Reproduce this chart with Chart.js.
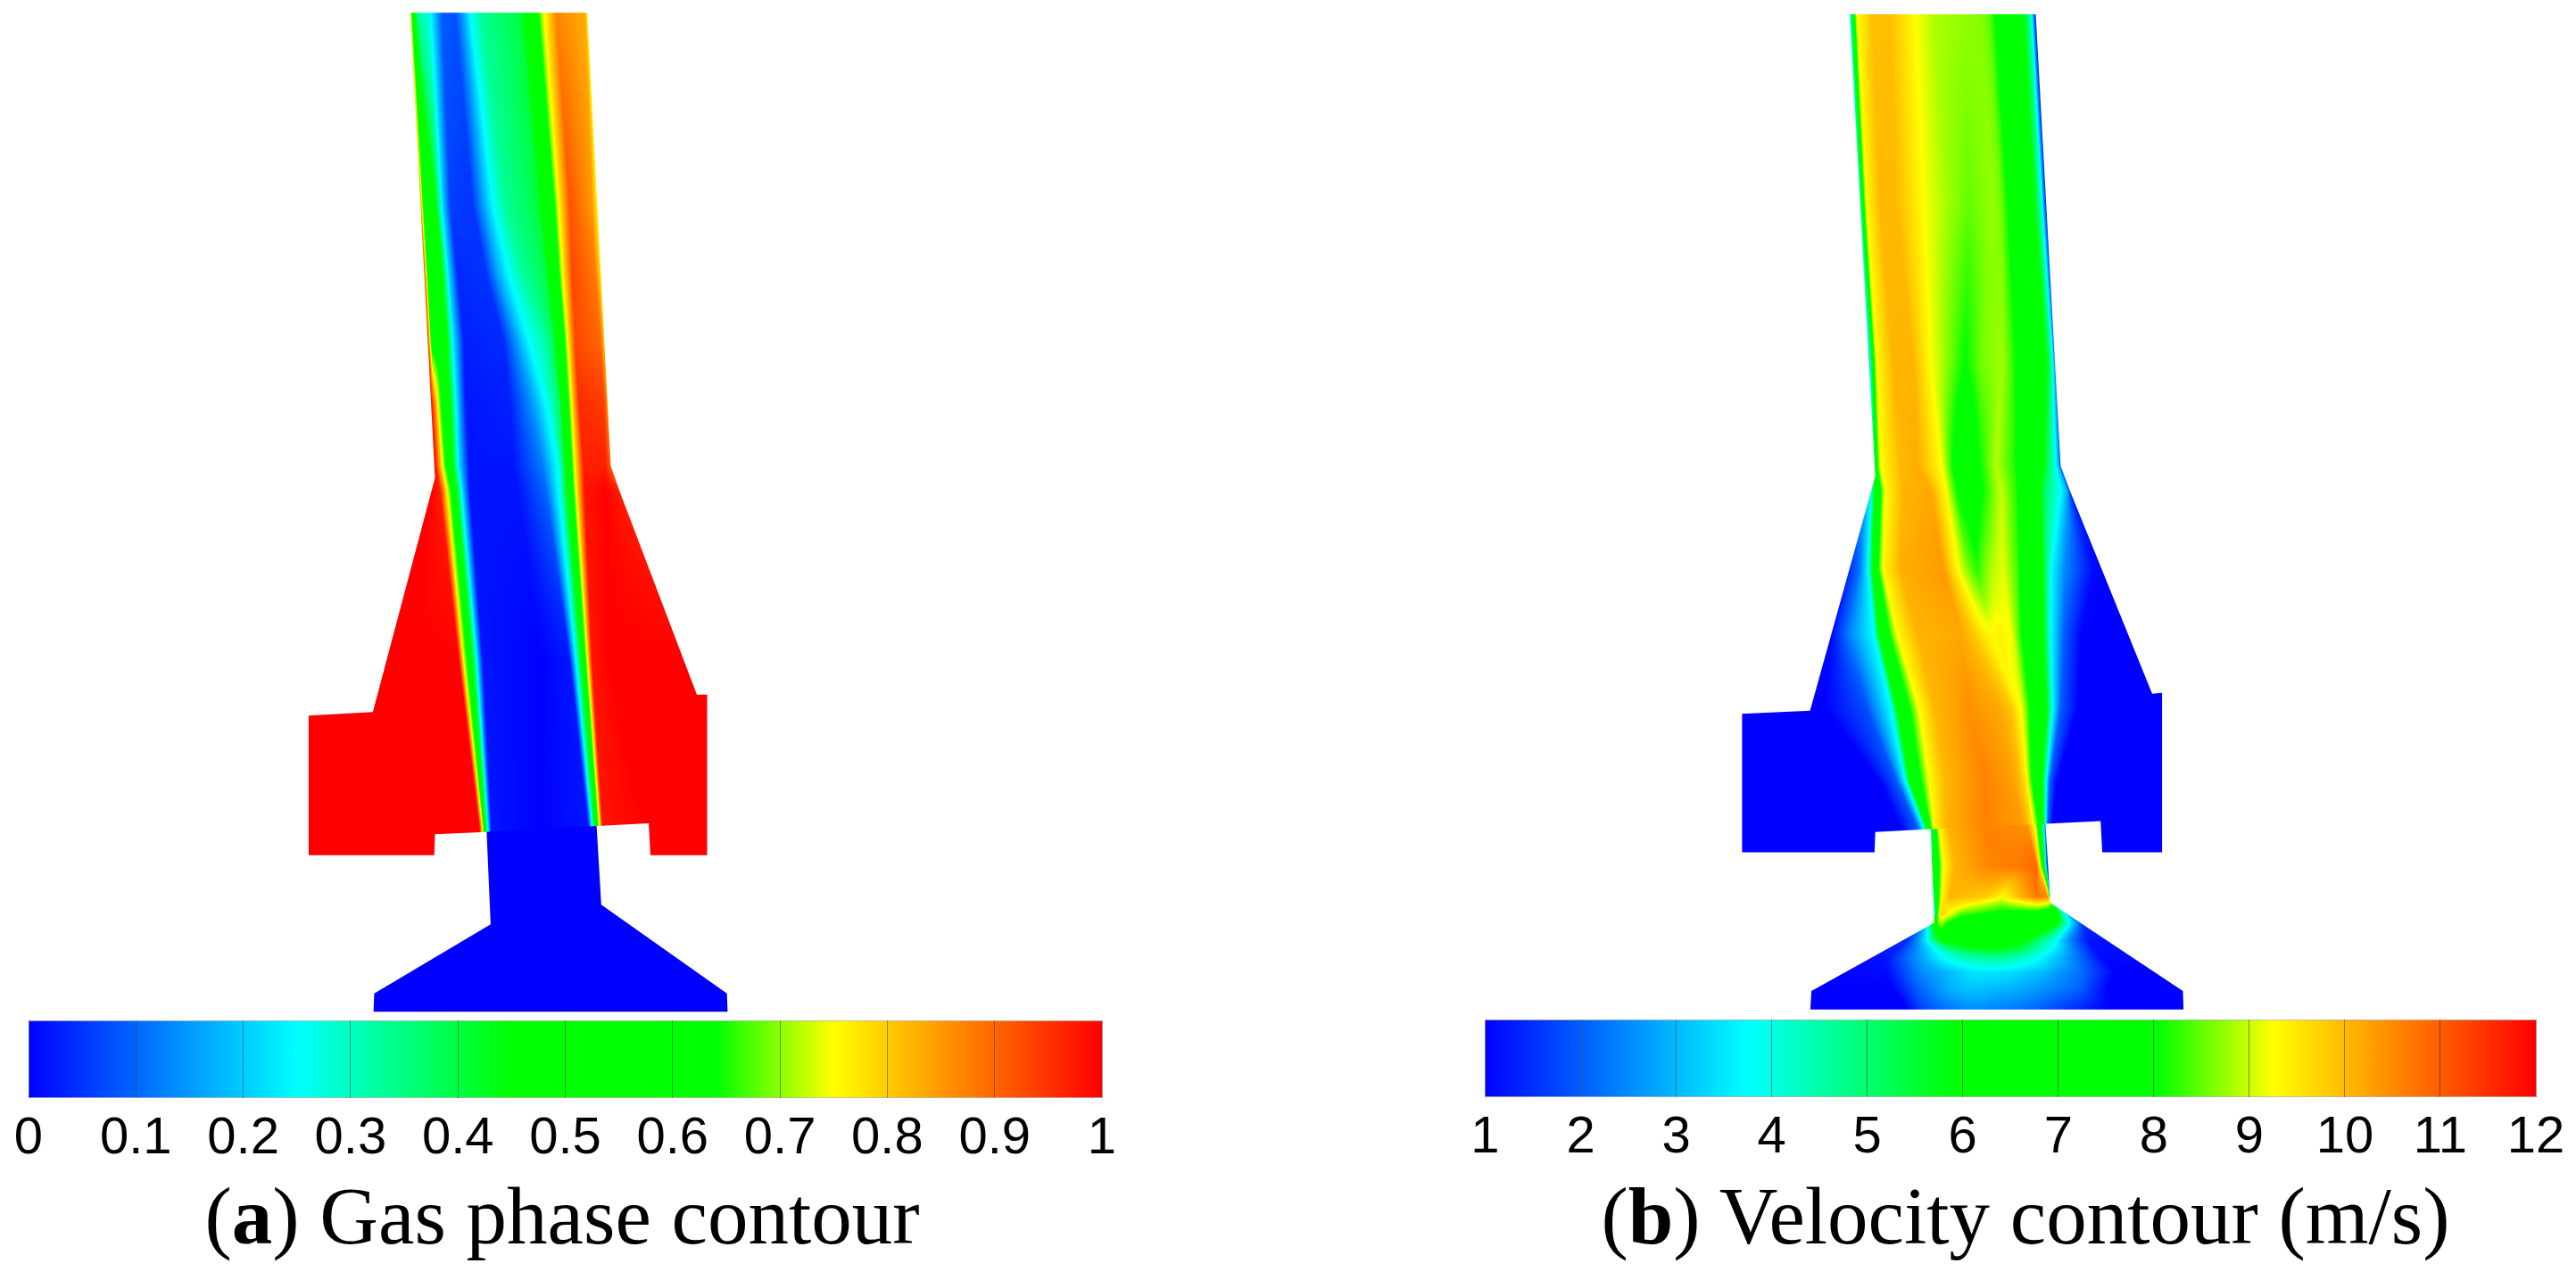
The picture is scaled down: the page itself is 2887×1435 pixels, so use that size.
<!DOCTYPE html>
<html>
<head>
<meta charset="utf-8">
<script src="https://cdn.jsdelivr.net/npm/chart.js@4"></script>
<style>
  html, body { margin: 0; padding: 0; background: #fff; }
  body { position: relative; width: 2887px; height: 1435px; overflow: hidden; }
  canvas { position: absolute; }
  .caption {
    position: absolute; top: 1309px; width: 1300px; text-align: center; white-space: nowrap;
    font-family: "Liberation Serif", serif; font-size: 91px; line-height: 110px; color: #000;
  }
</style>
</head>
<body>
<canvas id="js-gasContour" width="600" height="1150" style="left:300px;top:0"></canvas>
<canvas id="js-velContour" width="600" height="1150" style="left:1900px;top:0"></canvas>
<canvas id="js-gasBar" width="1300" height="167" style="left:0;top:1144px"></canvas>
<canvas id="js-velBar" width="1267" height="167" style="left:1620px;top:1143px"></canvas>
<div class="caption" style="left:-20px">(<b>a</b>) Gas phase contour</div>
<div class="caption" style="left:1620px">(<b>b</b>) Velocity contour (m/s)</div>

<script>
// colour map, position along the bar (0..1)
const mapPos = [0, 0.25, 0.45, 0.64, 0.75, 1];
const mapRgb = [[0,0,255], [0,255,255], [0,255,0], [0,255,0], [255,255,0], [255,0,0]];

const gasTicks = [0, 0.1, 0.2, 0.3, 0.4, 0.5, 0.6, 0.7, 0.8, 0.9, 1];
const gasTickLabels = ['0', '0.1', '0.2', '0.3', '0.4', '0.5', '0.6', '0.7', '0.8', '0.9', '1'];
const velTicks = [1, 2, 3, 4, 5, 6, 7, 8, 9, 10, 11, 12];
const velTickLabels = ['1', '2', '3', '4', '5', '6', '7', '8', '9', '10', '11', '12'];

// gas phase, upper part (jet + side chambers). rows of x stops and gas fraction
const gasUpperOutline = [[418,37],[936,37],[1005,1365],[1030,1437],[1257,2035],[1287,2035],[1287,2505],[1121,2505],[1116,2412],[965,2420],[639,2437],[490,2444],[488,2505],[120,2505],[120,2096],[308,2086],[490,1400],[418,37]];
const gasUpperY = [37, 600, 800, 1000, 1180, 1365, 1437, 1937, 2427, 2505];
const gasUpperX = [
  [418,428,440,470,487,510,550,575,592,625,740,757,790,807,845,930,936],
  [449,458,490,500,512,535,600,635,660,695,790,805,838,850,885,950,965],
  [460,470,510,518,530,555,640,675,705,740,812,825,852,862,892,960,975],
  [470,480,525,532,545,575,690,735,765,810,835,845,868,877,900,975,987],
  [479,487,515,540,552,580,710,775,815,835,855,860,880,888,912,985,996],
  [487,492,520,545,558,590,720,805,848,858,866,874,890,898,925,990,1005],
  [480,505,527,550,567,592,735,815,852,862,870,879,894,902,928,990,1030],
  [420,560,575,597,612,630,800,885,903,908,914,920,930,936,950,1000,1200],
  [120,620,630,637,645,655,800,940,950,953,956,960,966,972,981,1100,1290],
  [120,620,630,637,645,655,800,940,950,953,956,960,966,972,981,1100,1290]
];
const gasUpperV = [
  [.75,.50,.32,.28,.20,.09,.08,.17,.25,.33,.40,.47,.62,.74,.87,.83,.76],
  [.85,.55,.48,.36,.22,.06,.05,.17,.25,.33,.40,.47,.62,.74,.92,.85,.76],
  [.90,.57,.49,.36,.22,.04,.05,.17,.25,.32,.39,.47,.62,.74,.93,.88,.78],
  [.95,.60,.50,.36,.22,.03,.04,.17,.25,.31,.38,.46,.62,.74,.93,.90,.80],
  [.98,.90,.55,.40,.24,.02,.03,.15,.25,.31,.38,.46,.62,.74,.96,.94,.85],
  [1,.98,.66,.42,.24,.02,.02,.12,.25,.30,.38,.46,.62,.74,.97,.97,.90],
  [1,.97,.74,.50,.25,.02,.02,.10,.25,.30,.38,.46,.62,.74,.98,1,.97],
  [1,1,.74,.50,.25,.02,0,.02,.25,.30,.38,.46,.62,.74,.98,1,1],
  [1,1,.74,.50,.25,.02,0,.02,.25,.30,.38,.46,.62,.74,.98,1,1],
  [1,1,.74,.50,.25,.02,0,.02,.25,.30,.38,.46,.62,.74,.98,1,1]
];

// gas phase, throat and cone: liquid only
const gasLowerOutline = [[641,2431],[653,2708],[312,2910],[310,2964],[1347,2964],[1345,2910],[977,2650],[963,2414],[641,2431]];
const gasLowerY = [2400];
const gasLowerX = [[0, 1568]];
const gasLowerV = [[0, 0]];

// velocity (m/s), upper part
const velUpperOutline = [[452,42],[997,42],[1070,1365],[1097,1437],[1338,2032],[1367,2030],[1367,2497],[1192,2497],[1187,2405],[1027,2413],[687,2429],[527,2437],[525,2497],[137,2497],[137,2091],[336,2082],[527,1395],[452,42]];
const velUpperY = [42, 600, 1070, 1365, 1437, 1667, 1857, 2077, 2287, 2422, 2497];
const velUpperX = [
  [440,450,453,462,472,520,570,645,700,780,840,860,875,885,950,975,985,991,995,1000],
  [470,480,483,490,500,540,590,670,730,800,870,895,910,925,985,1005,1016,1022,1027,1032],
  [500,510,513,520,530,580,640,690,745,790,840,900,930,945,1020,1040,1048,1053,1056,1062],
  [510,520,525,530,542,600,650,722,755,790,830,880,935,950,1015,1035,1055,1065,1070,1075],
  [490,505,515,528,555,610,690,735,765,810,845,895,940,955,1000,1030,1070,1090,1097,1105],
  [440,480,507,522,548,600,725,770,800,825,860,900,945,957,1010,1030,1040,1085,1165,1200],
  [400,450,525,540,590,650,780,820,850,865,890,925,945,965,1015,1030,1040,1080,1130,1200],
  [380,500,575,595,655,700,800,890,925,945,955,965,975,985,1025,1038,1046,1070,1120,1200],
  [540,590,615,630,685,730,850,930,950,965,972,980,985,990,1013,1022,1028,1038,1060,1200],
  [600,650,668,680,697,735,850,960,975,985,992,1000,1005,1010,1020,1023,1026,1032,1045,1200],
  [600,650,668,680,697,735,850,960,975,985,992,1000,1005,1010,1020,1023,1026,1032,1045,1200]
];
const velUpperV = [
  [1,3,3.8,6.5,9.25,9.95,9.95,9.25,8.85,8.75,8.65,8.5,8.1,7.8,6.5,5,3.8,2.5,1.5,1.2],
  [1,3,3.8,7,9.25,10,10,9.25,8.85,8.5,8.75,8.6,8.2,7.8,6.5,5,3.8,2.5,1.5,1.2],
  [1,3,4,7,9.25,10.05,10.05,9.25,8.6,8,8.6,8.8,8.3,7.8,6.5,5,3.8,2.5,1.5,1.2],
  [1,3.5,5,7.5,9.25,10,10.15,9.25,8,7,8,8.9,8.2,7.5,6.4,5,3.9,2.8,1.8,1.2],
  [2,3.2,3.8,6.5,9.25,10.05,10.2,9.25,8.1,7.5,8.1,9,8.2,7.5,6.5,4.8,3.8,2.8,1.5,1.2],
  [1.2,2.2,3.8,6.5,9.25,10.1,10.35,9.25,8.6,8.2,8.8,9.15,8.3,7.5,6.5,4.8,3.8,2.4,1.1,1],
  [1.1,2.4,3.8,6.5,9.25,10.05,10.2,9.8,9.4,9.3,9.4,9.25,8.5,7.7,6.5,4.8,3.8,2,1,1],
  [1,1.8,3.8,6.5,9.25,10,10.45,10.2,9.9,9.4,9.25,8.8,8.3,7.8,6.5,4.8,3.8,2,1,1],
  [1,2,3.8,6.5,9.25,10,10.6,10.3,10,9.6,9.25,8.6,8.1,7.8,6.5,4.8,3.8,2,1,1],
  [1,2,3.8,6.5,9.25,10.05,10.6,10.3,10,9.6,9.25,8.6,8.1,7.8,6.5,4.8,3.8,2,1,1],
  [1,2,3.8,6.5,9.25,10.05,10.6,10.3,10,9.6,9.25,8.6,8.1,7.8,6.5,4.8,3.8,2,1,1]
];

// velocity (m/s), throat and cone
const velLowerOutline = [[689,2423],[700,2703],[340,2903],[337,2957],[1430,2957],[1428,2903],[1040,2645],[1025,2407],[689,2423]];
const velLowerY = [2413, 2537, 2627, 2677, 2707, 2757, 2807, 2847, 2897, 2957];
const velLowerX = [
  [340,600,680,686,692,698,712,740,850,920,970,995,1008,1020,1026,1030,1430],
  [340,600,680,690,694,705,725,760,870,950,1000,1010,1020,1027,1030,1034,1430],
  [340,600,680,697,700,708,720,745,850,900,1000,1030,1036,1038,1040,1044,1430],
  [340,600,680,702,704,708,720,745,780,900,1000,1040,1060,1072,1085,1090,1430],
  [340,640,670,682,692,700,715,745,790,900,1000,1040,1065,1095,1120,1135,1430],
  [340,620,650,680,695,715,740,780,830,900,960,1000,1030,1055,1095,1150,1430],
  [340,560,650,730,760,800,830,860,900,930,970,1000,1040,1080,1130,1190,1430],
  [340,560,660,740,770,800,840,880,930,970,1020,1060,1100,1130,1170,1230,1430],
  [340,580,650,720,760,800,840,880,930,970,1010,1060,1100,1130,1160,1210,1430],
  [340,620,670,730,770,800,840,880,930,970,1010,1050,1090,1130,1170,1212,1430]
];
const velLowerV = [
  [1,1,2,3.8,5,6.8,9.25,10.05,10.6,10.5,10.4,9.25,7,4,2,1,1],
  [1,1,2,3.8,5.5,7,9.25,10.05,10.6,10.7,10.9,9.25,7,4,1.8,1,1],
  [1,1,2,3.8,5.5,7,9.25,10.05,9.8,9.3,10.7,10.6,9.5,5,2,1,1],
  [1,1,2,3.8,6,8,9.8,9.25,8.4,7.8,7.6,7,6.5,4.8,3.8,2.5,1],
  [1,1.5,2.8,3.8,5.5,7,8.8,7.8,7,6.9,7,6.5,5.5,3.8,2.5,1.5,1],
  [1,1.5,2.5,3.8,4.6,5.6,6,6.5,6.8,6.6,6,5,4.4,3.8,2.5,1.2,1],
  [1,1.2,2.6,3.8,4.1,4.4,4.5,4.6,4.6,4.4,4.1,3.8,3.3,2.8,2.1,1.1,1],
  [1,1.1,2.5,3,3.2,3.4,3.5,3.5,3.4,3.2,3,2.7,2.4,2.2,1.7,1,1],
  [1,1,2,2.7,3,3.1,3.1,3,2.9,2.8,2.6,2.4,2.2,2,1.6,1,1],
  [1,1,1.8,2.2,2.4,2.5,2.5,2.4,2.3,2.2,2,1.8,1.6,1.4,1.2,1,1]
];

function mapColor(t)
{
  if (t <= 0) return mapRgb[0];
  for (var i = 1; i < mapPos.length; i++){
    if (t <= mapPos[i]){
      var f = (t - mapPos[i-1]) / (mapPos[i] - mapPos[i-1]);
      var a = mapRgb[i-1], b = mapRgb[i];
      return [a[0] + (b[0]-a[0])*f, a[1] + (b[1]-a[1])*f, a[2] + (b[2]-a[2])*f];
    }
  }
  return mapRgb[mapRgb.length-1];
}

// shades one zone into a canvas pattern, going through the chart's scales
function fieldPattern(chart, ys, xs, vs, vMin, vMax)
{
  const w = chart.width, h = chart.height;
  const off = document.createElement('canvas');
  off.width = w; off.height = h;
  const octx = off.getContext('2d');
  const img = octx.createImageData(w, h);
  const sx = chart.scales.x, sy = chart.scales.y;
  const cols = xs[0].length;
  const rowX = new Array(cols), rowV = new Array(cols);

  for (var py = 0; py < h; py++){
    const dy = sy.getValueForPixel(py + 0.5);
    var r = 0;
    while (r < ys.length - 2 && dy > ys[r+1]) r++;
    const r2 = Math.min(r + 1, ys.length - 1);
    var f = r2 === r ? 0 : (dy - ys[r]) / (ys[r2] - ys[r]);
    f = Math.max(0, Math.min(1, f));
    for (var c = 0; c < cols; c++){
      rowX[c] = xs[r][c] + (xs[r2][c] - xs[r][c]) * f;
      rowV[c] = vs[r][c] + (vs[r2][c] - vs[r][c]) * f;
    }
    var k = 0;
    for (var px = 0; px < w; px++){
      const dx = sx.getValueForPixel(px + 0.5);
      while (k < cols - 1 && dx > rowX[k]) k++;
      var v;
      if (k === 0 || dx > rowX[k]) v = rowV[k];
      else v = rowV[k-1] + (rowV[k] - rowV[k-1]) * (dx - rowX[k-1]) / (rowX[k] - rowX[k-1]);
      const rgb = mapColor((v - vMin) / (vMax - vMin));
      const p = (py * w + px) * 4;
      img.data[p] = rgb[0]; img.data[p+1] = rgb[1]; img.data[p+2] = rgb[2]; img.data[p+3] = 255;
    }
  }
  octx.putImageData(img, 0, 0);
  return chart.ctx.createPattern(off, 'no-repeat');
}

function zoneDataset(outline, ys, xs, vs, vMin, vMax)
{
  var pattern = null;
  return {
    data: outline,
    showLine: true,
    fill: 'shape',
    tension: 0,
    borderWidth: 0,
    pointRadius: 0,
    clip: false,
    backgroundColor: (c) => {
      // first pass comes before the layout, the scales have no size yet
      if (!c.chart.chartArea) return 'rgba(0,0,0,0)';
      if (!pattern) pattern = fieldPattern(c.chart, ys, xs, vs, vMin, vMax);
      return pattern;
    }
  };
}

function contourChart(id, datasets)
{
  return new Chart(document.getElementById(id), {
    type: 'scatter',
    data: { datasets: datasets },
    options: {
      responsive: false,
      animation: false,
      layout: { padding: 0 },
      plugins: { legend: { display: false }, tooltip: { enabled: false } },
      scales: {
        x: { type: 'linear', display: false, min: 0, max: 1568 },
        y: { type: 'linear', display: false, min: 0, max: 3005, reverse: true }
      }
    }
  });
}

function barChart(id, ticks, labels, padLeft, padRight)
{
  const segments = [];
  for (var i = 0; i < ticks.length - 1; i++){
    segments.push({
      data: [[ticks[i], ticks[i+1]]],
      grouped: false,
      barPercentage: 1,
      categoryPercentage: 1,
      borderWidth: { top: 1, bottom: 1, left: 0, right: 0 },
      borderSkipped: false,
      borderColor: '#b4b4b4',
      backgroundColor: (c) => {
        const area = c.chart.chartArea;
        if (!area) return 'rgba(0,0,0,0)';
        const g = c.chart.ctx.createLinearGradient(area.left, 0, area.right, 0);
        mapPos.forEach((p, n) => g.addColorStop(p, 'rgb(' + mapRgb[n].join(',') + ')'));
        return g;
      }
    });
  }
  return new Chart(document.getElementById(id), {
    type: 'bar',
    data: { labels: [''], datasets: segments },
    options: {
      indexAxis: 'y',
      responsive: false,
      animation: false,
      layout: { padding: { left: padLeft, right: padRight, top: 0, bottom: 0 } },
      plugins: { legend: { display: false }, tooltip: { enabled: false } },
      scales: {
        y: { display: false },
        x: {
          type: 'linear',
          min: ticks[0],
          max: ticks[ticks.length-1],
          // the thin lines across the bar sit on top of the colours
          grid: { z: 1, drawTicks: false, color: 'rgba(0,0,0,0.4)', lineWidth: 1 },
          border: { display: false },
          afterBuildTicks: (s) => { s.ticks = ticks.map((v) => ({ value: v })); },
          afterFit: (s) => { s.paddingLeft = 0; s.paddingRight = 0; s.height = 80; },
          ticks: {
            autoSkip: false,
            maxRotation: 0,
            padding: 11,
            color: '#000',
            font: { family: '"Liberation Sans", Arial, sans-serif', size: 58 },
            callback: (v, i) => labels[i]
          }
        }
      }
    }
  });
}

contourChart('js-gasContour', [
  zoneDataset(gasUpperOutline, gasUpperY, gasUpperX, gasUpperV, 0, 1),
  zoneDataset(gasLowerOutline, gasLowerY, gasLowerX, gasLowerV, 0, 1)
]);
contourChart('js-velContour', [
  zoneDataset(velUpperOutline, velUpperY, velUpperX, velUpperV, 1, 12),
  zoneDataset(velLowerOutline, velLowerY, velLowerX, velLowerV, 1, 12)
]);
barChart('js-gasBar', gasTicks, gasTickLabels, 32, 65);
barChart('js-velBar', velTicks, velTickLabels, 44.5, 45);
</script>
</body>
</html>
